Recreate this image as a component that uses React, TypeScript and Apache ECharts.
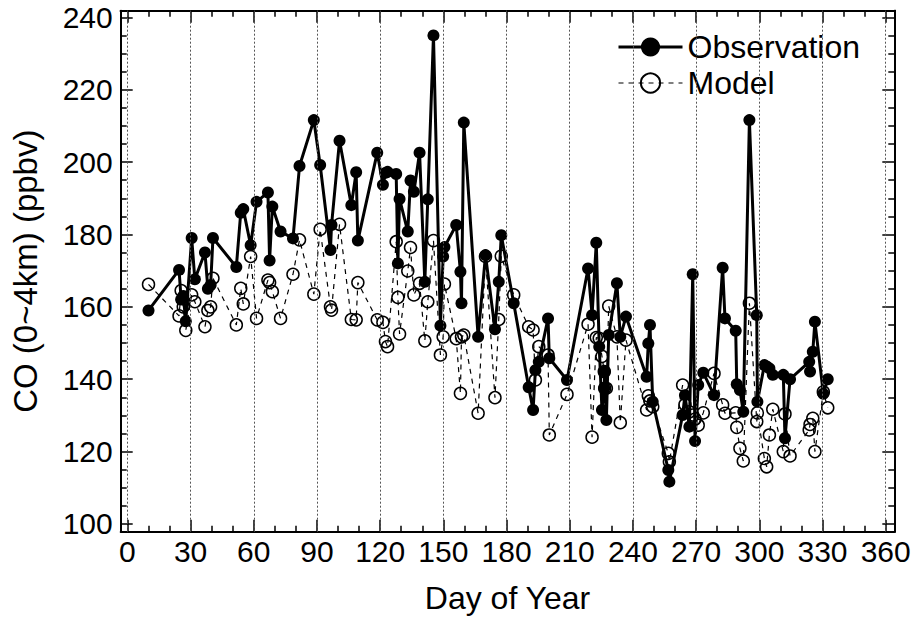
import React, { useEffect, useRef } from "react";
import * as echarts from "echarts";

const days = [10, 24.5, 25.5, 26.5, 27.7, 30.5, 32, 36.8, 38.2, 39.5, 40.6, 51.7, 53.8, 55, 58.5, 61.3, 66.7, 67.5, 68.8, 72.7, 78.6, 81.7, 88.5, 91.5, 96.4, 96.9, 100.7, 106.3, 108.6, 109.4, 118.6, 121.3, 122.5, 123.5, 127.6, 128.4, 129.2, 133.1, 134.4, 136, 138.7, 141.2, 142.6, 145.3, 148.6, 149.9, 150.5, 156.1, 158.1, 158.6, 159.7, 166.5, 170, 174.5, 176.3, 177.5, 183.4, 190.5, 192.6, 193.7, 195.3, 199.7, 200.3, 208.7, 218.7, 220.6, 222.6, 224, 225.3, 226.4, 226.6, 227.4, 228.5, 232.4, 234, 236.7, 246.5, 247.3, 248.1, 249.4, 256.8, 257.3, 263.6, 264.7, 266.8, 268.4, 269.5, 271, 273.4, 278.5, 282.6, 283.7, 288.8, 289.3, 290.8, 292.4, 295.3, 298.8, 299.1, 302.4, 303.5, 304.8, 306.4, 311.4, 312.2, 314.6, 323.7, 324.1, 325.4, 326.4, 330.4, 332.5];

const observation = [159, 170.2, 162, 163, 156, 179, 167.6, 175, 165, 166, 179, 171, 186, 187, 177, 189, 191.6, 172.8, 187.7, 180.8, 178.9, 198.9, 211.6, 199.2, 175.7, 182.6, 205.9, 188.1, 197.2, 178.3, 202.6, 193.7, 197, 197.3, 196.7, 172, 189.8, 180.8, 194.9, 191.8, 202.6, 166.9, 189.7, 235, 154.8, 173.9, 176.5, 182.6, 169.7, 161, 210.9, 151.7, 174.3, 153.8, 166.9, 179.8, 161, 137.8, 131.5, 142.5, 144.8, 156.8, 145.8, 139.8, 170.6, 157.7, 177.7, 149, 131.5, 137.5, 142.1, 128.7, 152.2, 166.5, 151.7, 157.3, 140.7, 149.9, 155, 133.8, 114.9, 111.7, 130.1, 135.6, 126.9, 169, 122.9, 138.4, 141.8, 135.6, 170.8, 156.8, 153.4, 138.6, 137, 131, 211.6, 157.7, 133.8, 143.9, 143.5, 143, 141.2, 141.2, 123.7, 140, 144.8, 142.1, 147.6, 155.9, 136, 140];

const model = [166.2, 157.5, 164.5, 160, 153.5, 163.3, 161.4, 154.5, 159, 160, 167.9, 155, 165.1, 160.8, 173.9, 156.8, 167.4, 166.7, 164.2, 156.8, 169, 178.5, 163.5, 181.4, 160, 159.1, 182.8, 156.5, 156.4, 166.7, 156.4, 155.7, 150.4, 149, 178, 162.6, 152.5, 169.9, 176.4, 163.3, 166.5, 150.6, 161.4, 178.3, 146.7, 151.7, 166.3, 151.2, 136.1, 151.7, 152.2, 130.6, 173.9, 134.9, 156.5, 174, 163.3, 154.5, 153.6, 139.8, 149, 146.7, 124.6, 135.8, 155.2, 124, 151.5, 151.3, 146.3, 142.1, 137.5, 137.5, 160.2, 151.7, 128, 150.8, 131.5, 135.4, 134, 132.4, 119.5, 117.2, 138.4, 133, 131, 130.1, 129, 127.3, 130.7, 141.6, 132.9, 130.6, 130.7, 126.7, 120.9, 117.4, 161, 128.3, 130.7, 118.1, 115.8, 124.6, 131.7, 120, 130.4, 118.8, 126, 127.5, 129.2, 120, 136.5, 132.1];

const xMajorTicks = [0, 30, 60, 90, 120, 150, 180, 210, 240, 270, 300, 330, 360];
const xMinorTicks = [10, 20, 40, 50, 70, 80, 100, 110, 130, 140, 160, 170, 190, 200, 220, 230, 250, 260, 280, 290, 310, 320, 340, 350];
const yMajorTicks = [100, 120, 140, 160, 180, 200, 220, 240];
const yMinorTicks = [105, 110, 115, 125, 130, 135, 145, 150, 155, 165, 170, 175, 185, 190, 195, 205, 210, 215, 225, 230, 235];

const X_MIN = -3.2;
const X_MAX = 364.1;
const Y_MIN = 97.87;
const Y_MAX = 241.82;
const FONT = "Liberation Sans";

export default function App() {
  const ref = useRef<HTMLDivElement>(null);
  useEffect(() => {
    const chart = echarts.init(ref.current!, null, { renderer: "svg" });
    const tickStyle = { color: "#000", width: 1.5 };
    const mkX = (position: string, ticks: number[], len: number, main: boolean) => ({
      type: "value",
      position,
      min: X_MIN,
      max: X_MAX,
      gridIndex: 0,
      name: main ? "Day of Year" : "",
      nameLocation: "middle",
      nameGap: 50,
      nameTextStyle: { fontSize: 32, fontFamily: FONT, color: "#000" },
      axisLine: { show: main || position === "top", onZero: false, lineStyle: { color: "#000", width: 2 } },
      axisTick: { show: true, inside: true, length: len, customValues: ticks, lineStyle: tickStyle },
      axisLabel: main
        ? { show: true, customValues: xMajorTicks, fontSize: 30, fontFamily: FONT, color: "#000", margin: 5 }
        : { show: false },
      splitLine: { show: false },
    });
    const mkY = (position: string, ticks: number[], len: number, main: boolean) => ({
      type: "value",
      position,
      min: Y_MIN,
      max: Y_MAX,
      gridIndex: 0,
      name: main ? "CO (0~4km) (ppbv)" : "",
      nameLocation: "middle",
      nameGap: 79,
      nameTextStyle: { fontSize: 33, fontFamily: FONT, color: "#000" },
      axisLine: { show: main || position === "right", onZero: false, lineStyle: { color: "#000", width: 2 } },
      axisTick: { show: true, inside: true, length: len, customValues: ticks, lineStyle: tickStyle },
      axisLabel: main
        ? { show: true, customValues: yMajorTicks, fontSize: 30, fontFamily: FONT, color: "#000", margin: 8 }
        : { show: false },
      splitLine: { show: false },
    });

    const obsData = days.map((d, i) => [d, observation[i]]);
    const modData = days.map((d, i) => [d, model[i]]);

    chart.setOption({
      animation: false,
      backgroundColor: "#fff",
      textStyle: { fontFamily: FONT },
      grid: { left: 120.7, right: 23.7, top: 10.7, bottom: 92.3, containLabel: false, outerBoundsMode: "none" },
      xAxis: [
        mkX("bottom", xMajorTicks, 12, true),
        mkX("bottom", xMinorTicks, 6, false),
        mkX("top", xMajorTicks, 12, false),
        mkX("top", xMinorTicks, 6, false),
      ],
      yAxis: [
        mkY("left", yMajorTicks, 12, true),
        mkY("left", yMinorTicks, 6, false),
        mkY("right", yMajorTicks, 12, false),
        mkY("right", yMinorTicks, 6, false),
      ],
      legend: {
        data: ["Observation", "Model"],
        orient: "vertical",
        left: 617,
        top: 31,
        padding: 0,
        itemWidth: 64,
        itemHeight: 24,
        itemGap: 4,
        lineStyle: { width: "inherit" },
        textStyle: { fontSize: 32, fontFamily: FONT, color: "#000" },
      },
      series: [
        {
          name: "grid",
          type: "line",
          data: [],
          z: 1,
          markLine: {
            silent: true,
            symbol: "none",
            label: { show: false },
            lineStyle: { type: [2, 2], color: "#555", width: 1 },
            data: xMajorTicks.map((v) => ({ xAxis: v })),
          },
        },
        {
          name: "Model",
          type: "line",
          data: modData,
          z: 2,
          symbol: "circle",
          symbolSize: 12,
          showAllSymbol: true,
          lineStyle: { color: "#000", width: 1.2, type: [5, 5] },
          itemStyle: { color: "none", borderColor: "#000", borderWidth: 1.5 },
        },
        {
          name: "Observation",
          type: "line",
          data: obsData,
          z: 3,
          symbol: "circle",
          symbolSize: 12,
          showAllSymbol: true,
          lineStyle: { color: "#000", width: 3 },
          itemStyle: { color: "#000" },
        },
      ],
    });
    return () => chart.dispose();
  }, []);
  return <div ref={ref} style={{ width: 918, height: 624, position: "absolute", left: 0, top: 0 }} />;
}
